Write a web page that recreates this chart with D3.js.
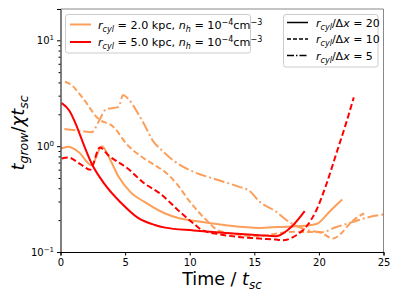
<!DOCTYPE html>
<html>
<head>
<meta charset="utf-8">
<script src="https://cdn.jsdelivr.net/npm/d3@7"></script>
<style>
  body { margin: 0; background: #fff; }
  text { font-family: "DejaVu Sans", sans-serif; }
</style>
</head>
<body>
<script>
// r_cyl = 2.0 kpc (orange)
const orSolidT = [0.05, 0.6, 1.4, 2.4, 3.2, 3.8, 4.5, 5.4, 6.5, 8.1, 9.25, 10.3, 12.8, 15.4, 16.8, 19.3, 19.9, 20.8, 21.8];
const orSolidV = [0.95, 0.985, 0.88, 0.66, 1.0, 0.765, 0.513, 0.37, 0.297, 0.231, 0.207, 0.197, 0.179, 0.169, 0.172, 0.179, 0.186, 0.239, 0.313];

const orDashT = [0.35, 0.75, 1.65, 2.9, 4.1, 5.2, 6.3, 7.3, 8.1, 9.0, 10.0, 11.3, 12.3, 15.4, 16.7, 18.0, 20.0, 21.1, 21.7, 22.4, 23.0, 23.5];
const orDashV = [4.06, 3.86, 2.93, 1.83, 1.52, 1.02, 0.79, 0.66, 0.57, 0.44, 0.30, 0.20, 0.158, 0.141, 0.149, 0.155, 0.154, 0.134, 0.149, 0.186, 0.214, 0.231];

const orDotT = [0.3, 1.6, 2.4, 3.0, 3.5, 4.5, 4.85, 5.2, 6.3, 7.3, 7.7, 8.7, 10.3, 11.8, 13.9, 14.6, 15.4, 16.7, 17.7, 18.8, 20.2, 21.35, 22.6, 23.9, 25];
const orDotV = [1.45, 1.39, 1.35, 1.75, 2.22, 2.35, 3.04, 2.83, 1.76, 1.06, 0.95, 0.737, 0.571, 0.495, 0.41, 0.38, 0.30, 0.24, 0.192, 0.166, 0.154, 0.172, 0.192, 0.214, 0.226];

// r_cyl = 5.0 kpc (red)
const rdSolidT = [0.1, 0.7, 1.2, 1.65, 2.4, 3.4, 4.7, 6.0, 7.3, 8.1, 10.3, 12.8, 15.4, 16.7, 17.3, 18.0, 18.9];
const rdSolidV = [2.55, 2.15, 1.6, 1.15, 0.69, 0.44, 0.29, 0.21, 0.18, 0.17, 0.16, 0.151, 0.144, 0.141, 0.152, 0.179, 0.243];

const rdDashT = [0.1, 0.6, 1.5, 2.3, 3.05, 3.7, 5.2, 6.5, 7.7, 9.25, 10.3, 11.0, 12.3, 15.4, 16.7, 17.2, 18.25, 19.0, 19.8, 20.6, 21.35, 22.1, 22.7];
const rdDashV = [0.765, 0.78, 0.68, 0.60, 0.97, 0.82, 0.615, 0.444, 0.357, 0.239, 0.186, 0.160, 0.147, 0.134, 0.131, 0.129, 0.144, 0.172, 0.248, 0.444, 0.853, 1.64, 2.89];

const xTicks = [0, 5, 10, 15, 20, 25];
const yTicks = [0.1, 1, 10];
const yTickExp = ["\u22121", "0", "1"];

const ORANGE = "#fc9f5b", RED = "#ff0000";

const svg = d3.select("body").append("svg")
    .attr("width", 399).attr("height", 299);

const x = d3.scaleLinear().domain([0, 25]).range([60.5, 383.5]);
const y = d3.scaleLog().domain([0.1, 19.76]).range([252, 9]);

// series
const series = [
  { t: orSolidT, v: orSolidV, c: ORANGE, dash: null },
  { t: orDashT, v: orDashV, c: ORANGE, dash: "6,3" },
  { t: orDotT, v: orDotV, c: ORANGE, dash: "11,3,2,3" },
  { t: rdSolidT, v: rdSolidV, c: RED, dash: null },
  { t: rdDashT, v: rdDashV, c: RED, dash: "6,3" }
];

const line = d3.line().x(d => x(d[0])).y(d => y(d[1])).curve(d3.curveMonotoneX);

svg.append("defs").append("clipPath").attr("id", "clip")
  .append("rect").attr("x", 60.5).attr("y", 9).attr("width", 323).attr("height", 243);

const plot = svg.append("g").attr("clip-path", "url(#clip)");
series.forEach(s => {
  plot.append("path")
    .datum(s.t.map((t, i) => [t, s.v[i]]))
    .attr("d", line)
    .attr("fill", "none")
    .attr("stroke", s.c)
    .attr("stroke-width", 2)
    .attr("stroke-dasharray", s.dash);
});

// frame
svg.append("line").attr("x1", 60.5).attr("x2", 383.5).attr("y1", 9).attr("y2", 9).attr("stroke", "#888");
svg.append("line").attr("x1", 383.5).attr("x2", 383.5).attr("y1", 9).attr("y2", 252).attr("stroke", "#888");

// axes
const xAxis = svg.append("g").attr("transform", "translate(0,252)")
  .call(d3.axisBottom(x).tickValues(xTicks).tickSize(3.5).tickPadding(3).tickFormat(d3.format("d")));
xAxis.selectAll("text").attr("font-size", 10).attr("font-family", "DejaVu Sans");

const minor = [];
[0.1, 1, 10].forEach(b => { for (let k = 2; k <= 9; k++) if (b * k <= 19.76) minor.push(b * k); });

const yAxis = svg.append("g").attr("transform", "translate(60.5,0)")
  .call(d3.axisLeft(y).tickValues(yTicks).tickSize(3.5).tickPadding(3).tickFormat(""));
yAxis.selectAll(".tick text").each(function(d, i) {
  const t = d3.select(this).attr("font-size", 10).attr("font-family", "DejaVu Sans").attr("dy", "0.35em");
  t.append("tspan").text("10");
  t.append("tspan").attr("dy", -4).attr("font-size", 7).text(yTickExp[i]);
});
svg.append("g").attr("transform", "translate(60.5,0)")
  .call(d3.axisLeft(y).tickValues(minor).tickSize(2).tickFormat(""))
  .call(g => g.select(".domain").remove());

[xAxis, yAxis].forEach(g => g.select(".domain").attr("stroke", "#000"));

// axis labels
const xl = svg.append("text").attr("x", 222).attr("y", 285).attr("text-anchor", "middle").attr("font-size", 17.5);
xl.append("tspan").text("Time / ");
xl.append("tspan").attr("font-style", "italic").text("t");
xl.append("tspan").attr("font-style", "italic").attr("font-size", 12).attr("dy", 4).text("sc");

const yl = svg.append("text").attr("transform", "translate(24,133) rotate(-90)")
  .attr("text-anchor", "middle").attr("font-size", 18);
yl.append("tspan").attr("font-style", "italic").text("t");
yl.append("tspan").attr("font-style", "italic").attr("font-size", 12.5).attr("dy", 4).text("grow");
yl.append("tspan").attr("dy", -4).text("/");
yl.append("tspan").attr("font-style", "italic").text("\u03c7t");
yl.append("tspan").attr("font-style", "italic").attr("font-size", 12.5).attr("dy", 4).text("sc");

// legend 1
const leg1 = svg.append("g");
leg1.append("rect").attr("x", 65.5).attr("y", 14.5).attr("width", 185).attr("height", 38.5)
  .attr("rx", 2.5).attr("fill", "#fff").attr("fill-opacity", 0.8).attr("stroke", "#ccc");
const leg1Items = [{ c: ORANGE, r: "2.0" }, { c: RED, r: "5.0" }];
leg1Items.forEach((it, i) => {
  const yy = 24.5 + i * 17.5;
  leg1.append("line").attr("x1", 70).attr("x2", 91).attr("y1", yy).attr("y2", yy)
    .attr("stroke", it.c).attr("stroke-width", 2);
  const t = leg1.append("text").attr("x", 98).attr("y", yy + 4).attr("font-size", 11.2);
  t.append("tspan").attr("font-style", "italic").text("r");
  t.append("tspan").attr("font-style", "italic").attr("font-size", 8).attr("dy", 3).text("cyl");
  t.append("tspan").attr("dy", -3).text(" = " + it.r + " kpc, ");
  t.append("tspan").attr("font-style", "italic").text("n");
  t.append("tspan").attr("font-style", "italic").attr("font-size", 8).attr("dy", 3).text("h");
  t.append("tspan").attr("dy", -3).text(" = 10");
  t.append("tspan").attr("font-size", 8).attr("dy", -4).text("\u22124");
  t.append("tspan").attr("dy", 4).text("cm");
  t.append("tspan").attr("font-size", 8).attr("dy", -4).text("\u22123");
});

// legend 2
const leg2 = svg.append("g");
leg2.append("rect").attr("x", 283.5).attr("y", 14.5).attr("width", 94.5).attr("height", 52.5)
  .attr("rx", 2.5).attr("fill", "#fff").attr("fill-opacity", 0.8).attr("stroke", "#ccc");
const leg2Items = [{ d: null, n: "20" }, { d: "4,2", n: "10" }, { d: "7,2,1.5,2", n: "5" }];
leg2Items.forEach((it, i) => {
  const yy = 22.5 + i * 16.5;
  leg2.append("line").attr("x1", 287).attr("x2", 308).attr("y1", yy).attr("y2", yy)
    .attr("stroke", "#000").attr("stroke-width", 1.5).attr("stroke-dasharray", it.d);
  const t = leg2.append("text").attr("x", 316).attr("y", yy + 4).attr("font-size", 11);
  t.append("tspan").attr("font-style", "italic").text("r");
  t.append("tspan").attr("font-style", "italic").attr("font-size", 8).attr("dy", 3).text("cyl");
  t.append("tspan").attr("dy", -3).text("/\u0394");
  t.append("tspan").attr("font-style", "italic").text("x");
  t.append("tspan").text(" = " + it.n);
});
</script>
</body>
</html>
